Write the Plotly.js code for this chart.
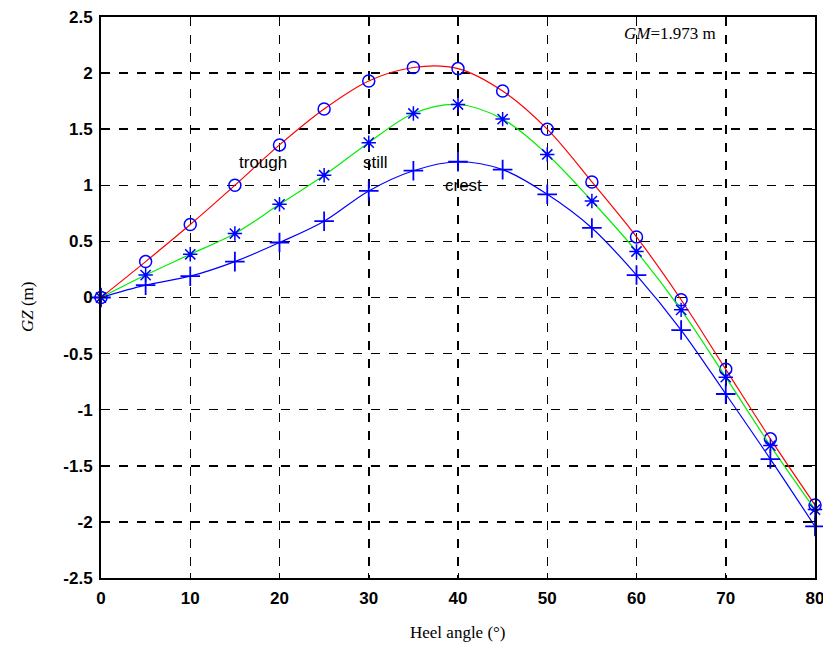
<!DOCTYPE html>
<html>
<head>
<meta charset="utf-8">
<script src="https://cdn.plot.ly/plotly-3.0.1.min.js"></script>
<style>html,body{margin:0;padding:0;background:#fff;}#chart{width:823px;height:655px;}</style>
</head>
<body>
<div id="chart"></div>
<script>
const heelAngle = [0,5,10,15,20,25,30,35,40,45,50,55,60,65,70,75,80];
const gzTrough = [0,0.32,0.65,1.00,1.36,1.68,1.93,2.05,2.04,1.84,1.50,1.03,0.54,-0.02,-0.64,-1.26,-1.85];
const gzStill  = [0,0.20,0.385,0.57,0.83,1.09,1.38,1.64,1.72,1.59,1.275,0.86,0.41,-0.11,-0.71,-1.32,-1.89];
const gzCrest  = [0,0.11,0.19,0.32,0.49,0.68,0.95,1.13,1.21,1.14,0.92,0.62,0.20,-0.29,-0.86,-1.44,-2.04];
const xTicks = [0,10,20,30,40,50,60,70,80];
const yTicks = [2.5,2,1.5,1,0.5,0,-0.5,-1,-1.5,-2,-2.5];
const yTickText = ['2.5','2','1.5','1','0.5','0','-0.5','-1','-1.5','-2','-2.5'];

const traces = [
  {x: heelAngle, y: gzTrough, name:'trough', mode:'lines+markers', cliponaxis:false, line:{color:'#ff0000', width:1.2, shape:'spline'},
   marker:{symbol:'circle-open', size:12, color:'#0000ff', line:{width:1.5, color:'#0000ff'}}},
  {x: heelAngle, y: gzStill, name:'still', mode:'lines+markers', cliponaxis:false, line:{color:'#00ee00', width:1.2, shape:'spline'},
   marker:{symbol:'asterisk-open', size:12, color:'#0000ff', line:{width:1.5, color:'#0000ff'}}},
  {x: heelAngle, y: gzCrest, name:'crest', mode:'lines+markers', cliponaxis:false, line:{color:'#0000ff', width:1.2, shape:'spline'},
   marker:{symbol:'cross-thin-open', size:14, color:'#0000ff', line:{width:1.8, color:'#0000ff'}}}
];

const tickFont = {family:'Liberation Sans Narrow, Liberation Sans, Arial', size:17, weight:'bold', color:'#000'};
const layout = {
  width:823, height:655,
  margin:{l:101, r:8, t:17, b:77},
  paper_bgcolor:'#fff', plot_bgcolor:'#fff',
  showlegend:false,
  xaxis:{range:[0,80], tickvals:xTicks, ticktext:xTicks.map(String), showgrid:true, gridcolor:'#000', griddash:'dash', gridwidth:1.5,
    zeroline:false, showline:true, linecolor:'#000', linewidth:2, mirror:'ticks', ticks:'inside', ticklen:5, tickcolor:'#000',
    tickfont:tickFont, ticklabelstandoff:4, ticklabeloverflow:'allow'},
  yaxis:{range:[-2.5,2.5], tickvals:yTicks, ticktext:yTickText, showgrid:true, gridcolor:'#000', griddash:'dash', gridwidth:1.5,
    zeroline:false, showline:true, linecolor:'#000', linewidth:2, mirror:'ticks', ticks:'inside', ticklen:5, tickcolor:'#000',
    tickfont:tickFont, ticklabelstandoff:3, ticklabeloverflow:'allow'},
  annotations:[
    {text:'trough', x:18.2, y:1.20, xref:'x', yref:'y', showarrow:false, font:{family:'Liberation Sans, Arial', size:17, color:'#000'}},
    {text:'still', x:30.7, y:1.20, xref:'x', yref:'y', showarrow:false, font:{family:'Liberation Sans, Arial', size:17, color:'#000'}},
    {text:'crest', x:40.6, y:1.0, xref:'x', yref:'y', showarrow:false, font:{family:'Liberation Sans, Arial', size:17, color:'#000'}},
    {text:'<i>GM</i>=1.973 m', x:63.75, y:2.35, xref:'x', yref:'y', showarrow:false, font:{family:'Liberation Serif, Times New Roman', size:17, color:'#000'}},
    {text:'Heel angle (°)', x:0.5, y:-0.098, xref:'paper', yref:'paper', xanchor:'center', yanchor:'middle', showarrow:false, font:{family:'Liberation Serif, Times New Roman', size:17, color:'#000'}},
    {text:'<i>GZ</i> (m)', x:-0.1036, y:0.483, xref:'paper', yref:'paper', xanchor:'center', yanchor:'middle', textangle:-90, showarrow:false, font:{family:'Liberation Serif, Times New Roman', size:17, color:'#000'}}
  ]
};
Plotly.newPlot('chart', traces, layout, {staticPlot:true, displayModeBar:false});
</script>
</body>
</html>
